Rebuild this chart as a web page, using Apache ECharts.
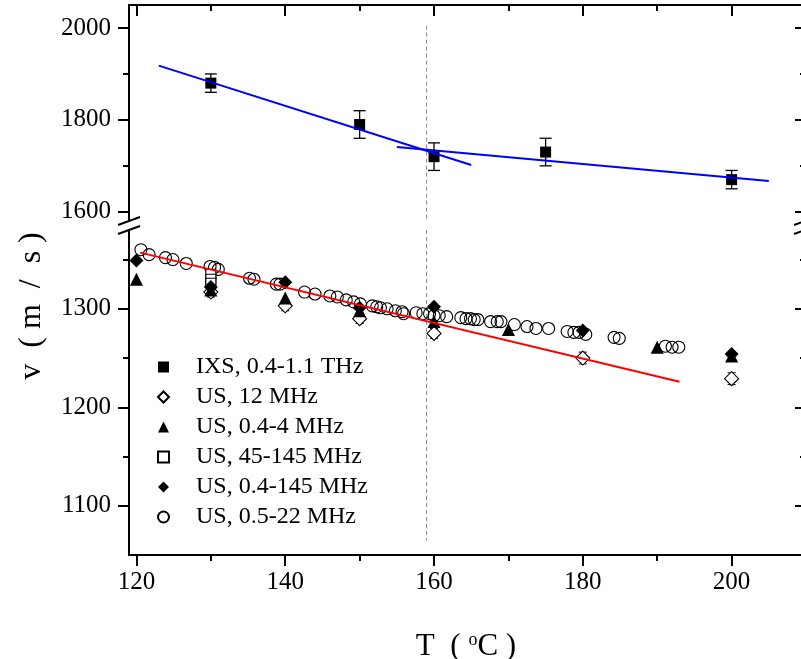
<!DOCTYPE html>
<html>
<head>
<meta charset="utf-8">
<script src="https://cdn.jsdelivr.net/npm/echarts@6/dist/echarts.min.js"></script>
<style>
html,body{margin:0;padding:0;background:#fff;}
#c{width:801px;height:659px;}
</style>
</head>
<body>
<div id="c"></div>
<script>
// ---------- data ----------
const xTickLabels = [120, 140, 160, 180, 200];
const xMinorTicks = [130, 150, 170, 190];
const yTopLabels = [1600, 1800, 2000];
const yTopMinor = [1700, 1900];
const yBotLabels = [1100, 1200, 1300];
const yBotMinor = [1150, 1250, 1350];

// IXS, 0.4-1.1 THz
const ixsT = [130, 150, 160, 175, 200];
const ixsV = [1880, 1790, 1720, 1730, 1670];
const ixsErr = [20, 30, 30, 30, 20];

// US, 12 MHz (open diamonds)
const us12T = [130, 140, 150, 160, 180, 200];
const us12V = [1317, 1303, 1290, 1275, 1250, 1229];
const us12Err = [5, 5, 5, 5, 6, 6];

// US, 0.4-4 MHz (filled triangles)
const us044T = [120, 130, 140, 150, 160, 170, 190, 200];
const us044V = [1330, 1319, 1311, 1298, 1287, 1279, 1261, 1252];

// US, 45-145 MHz (open squares)
const us45T = [130, 130, 130];
const us45V = [1335, 1330, 1326];

// US, 0.4-145 MHz (filled diamonds)
const us0145T = [120, 130, 140, 150, 160, 180, 200];
const us0145V = [1349, 1322, 1327, 1301, 1302, 1278, 1254];

// US, 0.5-22 MHz (open circles)
const us0522T = [120.6,121.7,123.9,124.9,126.7,129.9,130.5,131.0,135.2,135.8,138.8,139.3,142.6,144.0,
  146.0,147.0,148.2,149.2,150.1,151.7,152.3,152.8,153.7,154.8,155.7,155.9,157.6,158.5,159.4,160.0,160.7,161.7,
  163.6,164.3,164.9,165.4,165.9,167.6,168.5,169.0,170.8,172.5,173.7,175.4,177.9,178.8,179.5,180.4,184.2,184.9,
  191.1,192.0,192.9];
const us0522V = [1360,1355,1352,1350,1346,1343,1342,1340,1331,1330,1325,1325,1317,1315,
  1313,1312,1309,1307,1305,1303,1302,1301,1300,1298,1297,1295,1296,1295,1295,1293,1293,1292,
  1291,1290,1290,1289,1289,1287,1287,1287,1284,1282,1280,1280,1277,1276,1276,1274,1271,1270,
  1262,1261,1261];

// fit lines
const blueFit1T = [123, 165];
const blueFit1V = [1918, 1702];
const blueFit2T = [155, 205];
const blueFit2V = [1741, 1667];
const redFitT = [120.5, 193];
const redFitV = [1357, 1226];

// dashed marker
const markerT = 159;
const markerTopV = [2005, 1580];
const markerBotV = [1380, 1065];

// ---------- helpers ----------
const zip = (a, b) => a.map((v, i) => [v, b[i]]);
const errData = (t, v, e) => t.map((x, i) => [x, v[i] - e[i], v[i] + e[i]]);
const FONT = '"Liberation Serif", "Times New Roman", serif';

function errRender(capHalf, lw) {
  return function (params, api) {
    const x = api.value(0), lo = api.value(1), hi = api.value(2);
    const p1 = api.coord([x, lo]), p2 = api.coord([x, hi]);
    const st = { stroke: '#000', lineWidth: lw };
    return {
      type: 'group',
      children: [
        { type: 'line', shape: { x1: p1[0], y1: p1[1], x2: p2[0], y2: p2[1] }, style: st },
        { type: 'line', shape: { x1: p1[0] - capHalf, y1: p1[1], x2: p1[0] + capHalf, y2: p1[1] }, style: st },
        { type: 'line', shape: { x1: p2[0] - capHalf, y1: p2[1], x2: p2[0] + capHalf, y2: p2[1] }, style: st }
      ]
    };
  };
}

const X_MIN = 119, X_MAX = 210;
const AX = { color: '#000', width: 2 };
const plain = v => String(v);

function tick(inside, length, values) {
  return { show: true, inside, length, lineStyle: AX, customValues: values };
}
function xAx(gridIndex, position, opts) {
  return Object.assign({
    type: 'value', gridIndex, position, min: X_MIN, max: X_MAX,
    splitLine: { show: false },
    axisLine: { show: true, onZero: false, lineStyle: AX },
    axisLabel: { show: false }
  }, opts);
}
function yAx(gridIndex, position, min, max, opts) {
  return Object.assign({
    type: 'value', gridIndex, position, min, max,
    splitLine: { show: false },
    axisLine: { show: true, onZero: false, lineStyle: AX },
    axisLabel: { show: false }
  }, opts);
}
const labelStyle = { color: '#000', fontSize: 25, fontFamily: FONT, formatter: plain };

const chart = echarts.init(document.getElementById('c'), null, { renderer: 'canvas' });

const option = {
  backgroundColor: '#fff',
  animation: false,
  textStyle: { fontFamily: FONT },
  grid: [
    { left: 129, top: 5, width: 677, height: 216, outerBoundsMode: 'none', containLabel: false },
    { left: 129, top: 230, width: 677, height: 325, outerBoundsMode: 'none', containLabel: false }
  ],
  xAxis: [
    xAx(0, 'top', { axisTick: tick(true, 11, xTickLabels) }),
    xAx(0, 'top', { axisTick: tick(true, 6, xMinorTicks) }),
    xAx(1, 'bottom', {
      axisTick: tick(false, 11, xTickLabels),
      axisLabel: Object.assign({ show: true, customValues: xTickLabels, margin: 15 }, labelStyle)
    }),
    xAx(1, 'bottom', { axisTick: tick(false, 6, xMinorTicks) })
  ],
  yAxis: [
    yAx(0, 'left', 1580, 2050, {
      axisTick: tick(false, 11, yTopLabels),
      axisLabel: Object.assign({ show: true, customValues: yTopLabels, margin: 18 }, labelStyle)
    }),
    yAx(0, 'left', 1580, 2050, { axisTick: tick(false, 6, yTopMinor) }),
    yAx(0, 'right', 1580, 2050, { axisTick: tick(true, 11, yTopLabels) }),
    yAx(0, 'right', 1580, 2050, { axisTick: tick(true, 6, yTopMinor) }),
    yAx(1, 'left', 1050, 1380, {
      axisTick: tick(false, 11, yBotLabels),
      axisLabel: Object.assign({ show: true, customValues: yBotLabels, margin: 18 }, labelStyle)
    }),
    yAx(1, 'left', 1050, 1380, { axisTick: tick(false, 6, yBotMinor) }),
    yAx(1, 'right', 1050, 1380, { axisTick: tick(true, 11, yBotLabels) }),
    yAx(1, 'right', 1050, 1380, { axisTick: tick(true, 6, yBotMinor) })
  ],
  legend: {
    orient: 'vertical',
    left: 157,
    top: 355,
    itemWidth: 11,
    itemHeight: 11,
    itemGap: 6,
    padding: 0,
    selectedMode: false,
    textStyle: { fontFamily: FONT, fontSize: 24, color: '#000', padding: [0, 0, 0, 22] },
    data: ['IXS, 0.4-1.1 THz', 'US, 12 MHz', 'US, 0.4-4 MHz', 'US, 45-145 MHz', 'US, 0.4-145 MHz', 'US, 0.5-22 MHz']
  },
  series: [
    { type: 'line', xAxisIndex: 0, yAxisIndex: 0, symbol: 'none', silent: true,
      data: markerTopV.map(v => [markerT, v]), lineStyle: { color: '#888', width: 1, type: [4, 3] }, z: 1 },
    { type: 'line', xAxisIndex: 2, yAxisIndex: 4, symbol: 'none', silent: true,
      data: markerBotV.map(v => [markerT, v]), lineStyle: { color: '#888', width: 1, type: [4, 3] }, z: 1 },

    { type: 'custom', xAxisIndex: 0, yAxisIndex: 0, renderItem: errRender(6, 1.3),
      data: errData(ixsT, ixsV, ixsErr), z: 3 },
    { name: 'IXS, 0.4-1.1 THz', type: 'scatter', xAxisIndex: 0, yAxisIndex: 0, symbol: 'rect', symbolSize: 11,
      itemStyle: { color: '#000', opacity: 1 }, data: zip(ixsT, ixsV), z: 4 },
    { type: 'line', xAxisIndex: 0, yAxisIndex: 0, symbol: 'none', data: zip(blueFit1T, blueFit1V),
      lineStyle: { color: '#0000ff', width: 2 }, z: 5 },
    { type: 'line', xAxisIndex: 0, yAxisIndex: 0, symbol: 'none', data: zip(blueFit2T, blueFit2V),
      lineStyle: { color: '#0000ff', width: 2 }, z: 5 },

    { name: 'US, 0.5-22 MHz', type: 'scatter', xAxisIndex: 2, yAxisIndex: 4, symbol: 'circle', symbolSize: 12,
      itemStyle: { color: 'rgba(255,255,255,0)', borderColor: '#000', borderWidth: 1.1, opacity: 1 }, data: zip(us0522T, us0522V), z: 3 },
    { type: 'custom', xAxisIndex: 2, yAxisIndex: 4, renderItem: errRender(4, 1),
      data: errData(us12T, us12V, us12Err), z: 3 },
    { name: 'US, 12 MHz', type: 'scatter', xAxisIndex: 2, yAxisIndex: 4, symbol: 'diamond', symbolSize: 14,
      itemStyle: { color: '#fff', borderColor: '#000', borderWidth: 1.1, opacity: 1 }, data: zip(us12T, us12V), z: 4 },
    { name: 'US, 45-145 MHz', type: 'scatter', xAxisIndex: 2, yAxisIndex: 4, symbol: 'rect', symbolSize: 10,
      itemStyle: { color: '#fff', borderColor: '#000', borderWidth: 1.1, opacity: 1 }, data: zip(us45T, us45V), z: 4 },
    { name: 'US, 0.4-4 MHz', type: 'scatter', xAxisIndex: 2, yAxisIndex: 4, symbol: 'triangle', symbolSize: 13,
      itemStyle: { color: '#000', opacity: 1 }, data: zip(us044T, us044V), z: 5 },
    { name: 'US, 0.4-145 MHz', type: 'scatter', xAxisIndex: 2, yAxisIndex: 4, symbol: 'diamond', symbolSize: 14,
      itemStyle: { color: '#000', opacity: 1 }, data: zip(us0145T, us0145V), z: 5 },
    { type: 'line', xAxisIndex: 2, yAxisIndex: 4, symbol: 'none', data: zip(redFitT, redFitV),
      lineStyle: { color: '#ff0000', width: 2 }, z: 6 }
  ],
  graphic: [
    { type: 'line', shape: { x1: 118, y1: 225, x2: 140, y2: 217 }, style: { stroke: '#000', lineWidth: 2 }, z: 100 },
    { type: 'line', shape: { x1: 118, y1: 234, x2: 140, y2: 226 }, style: { stroke: '#000', lineWidth: 2 }, z: 100 },
    { type: 'line', shape: { x1: 794, y1: 225, x2: 816, y2: 217 }, style: { stroke: '#000', lineWidth: 2 }, z: 100 },
    { type: 'line', shape: { x1: 794, y1: 234, x2: 816, y2: 226 }, style: { stroke: '#000', lineWidth: 2 }, z: 100 },
    { type: 'text', x: 32, y: 306, rotation: Math.PI / 2,
      style: { text: 'v  ( m  /  s )', fontFamily: FONT, fontSize: 32, fill: '#000', textAlign: 'center', textVerticalAlign: 'middle' } },
    { type: 'text', x: 466, y: 647,
      style: { text: 'T  ( {sup|o}C )', fontFamily: FONT, fontSize: 31, fill: '#000', textAlign: 'center', textVerticalAlign: 'middle',
        rich: { sup: { fontFamily: FONT, fontSize: 18, verticalAlign: 'top', fill: '#000' } } } }
  ]
};

chart.setOption(option);
</script>
</body>
</html>
